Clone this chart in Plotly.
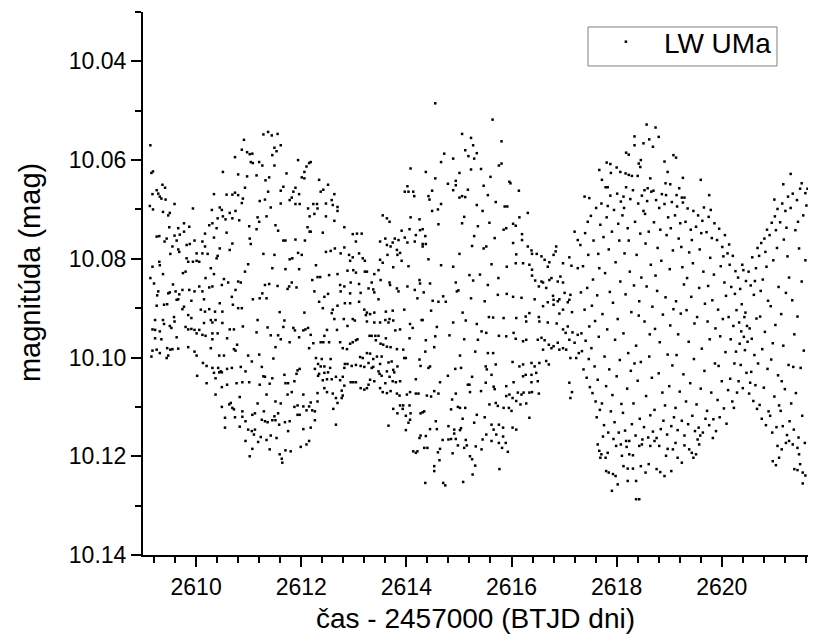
import plotly.graph_objects as go

# Light curve of LW UMa: time (BTJD) and magnitude, stored as list pairs per time segment
cas_1 = [
    2609.13, 2609.15, 2609.18, 2609.17, 2609.25, 2609.28, 2609.36, 2609.41, 2609.31, 2609.34,
    2609.42, 2609.12, 2609.18, 2609.37, 2609.47, 2609.50, 2609.59, 2609.94, 2609.49, 2609.66,
    2609.77, 2609.87, 2609.25, 2609.30, 2609.44, 2609.40, 2609.59, 2609.69, 2609.77, 2609.63,
    2609.55, 2609.66, 2609.68, 2609.82, 2609.88, 2609.97, 2610.01, 2609.51, 2609.17, 2609.30,
    2609.31, 2609.82, 2609.85, 2609.94, 2610.01, 2609.80, 2609.75, 2609.37, 2609.13, 2609.20,
    2609.56, 2609.28, 2609.26, 2609.47, 2609.50, 2609.61, 2609.68, 2609.74, 2609.87, 2609.97,
    2609.63, 2609.66, 2609.77, 2609.74, 2609.91, 2609.25, 2609.39, 2609.45, 2609.22, 2609.37,
    2609.39, 2609.58, 2609.59, 2609.50, 2609.53, 2609.85, 2609.91, 2609.17, 2609.22, 2609.31,
    2609.63, 2609.80, 2609.85, 2609.91, 2609.97, 2610.01, 2609.22, 2609.34, 2609.17, 2609.25,
    2609.31, 2609.45, 2609.51, 2609.55, 2609.66, 2609.47, 2609.44, 2609.15, 2609.85, 2609.97,
    2610.01, 2610.02,
]
mag_1 = [
    10.0570, 10.0626, 10.0623, 10.0669, 10.0661, 10.0668, 10.0650, 10.0656, 10.0674, 10.0678,
    10.0680, 10.0693, 10.0700, 10.0705, 10.0712, 10.0707, 10.0689, 10.0698, 10.0736, 10.0738,
    10.0728, 10.0735, 10.0755, 10.0754, 10.0759, 10.0765, 10.0753, 10.0751, 10.0745, 10.0763,
    10.0775, 10.0781, 10.0786, 10.0772, 10.0770, 10.0763, 10.0789, 10.0790, 10.0816, 10.0806,
    10.0813, 10.0799, 10.0806, 10.0806, 10.0804, 10.0826, 10.0829, 10.0831, 10.0839, 10.0850,
    10.0852, 10.0866, 10.0874, 10.0870, 10.0868, 10.0866, 10.0872, 10.0863, 10.0863, 10.0866,
    10.0883, 10.0882, 10.0897, 10.0902, 10.0885, 10.0895, 10.0893, 10.0892, 10.0924, 10.0924,
    10.0932, 10.0918, 10.0927, 10.0936, 10.0940, 10.0914, 10.0920, 10.0943, 10.0944, 10.0947,
    10.0959, 10.0938, 10.0943, 10.0942, 10.0944, 10.0951, 10.0961, 10.0963, 10.0986, 10.0984,
    10.0991, 10.0981, 10.0984, 10.0983, 10.0982, 10.0996, 10.1001, 10.0998, 10.0979, 10.0988,
    10.0996, 10.1037,
]

cas_2 = [
    2610.91, 2610.87, 2610.97, 2611.02, 2611.07, 2610.74, 2611.04, 2611.08, 2610.51, 2610.80,
    2610.97, 2610.93, 2610.34, 2610.58, 2610.69, 2610.74, 2610.80, 2610.89, 2610.87, 2610.45,
    2610.49, 2610.30, 2610.64, 2610.75, 2610.41, 2610.51, 2610.56, 2610.69, 2610.82, 2610.25,
    2610.31, 2610.39, 2610.34, 2610.58, 2610.17, 2611.01, 2611.02, 2610.12, 2610.69, 2611.04,
    2610.17, 2610.45, 2610.64, 2610.12, 2610.22, 2610.41, 2610.39, 2610.06, 2610.99, 2610.28,
    2610.93, 2610.34, 2610.18, 2610.53, 2610.61, 2610.80, 2610.85, 2610.06, 2610.25, 2610.31,
    2610.49, 2610.75, 2610.12, 2610.68, 2611.08, 2610.15, 2610.45, 2610.70, 2610.80, 2610.87,
    2610.09, 2610.17, 2610.25, 2610.36, 2610.50, 2610.28, 2610.37, 2610.15, 2610.31, 2610.50,
    2610.64, 2610.72, 2610.89, 2610.06, 2610.12, 2610.18, 2610.31, 2610.41, 2610.31, 2610.59,
    2610.78, 2610.28, 2610.72, 2610.75, 2610.44, 2610.53, 2610.99, 2611.06, 2610.13, 2610.20,
    2610.31, 2610.42, 2610.47, 2610.34, 2610.44, 2610.49, 2610.59, 2610.68, 2610.85, 2610.94,
    2610.37, 2610.20, 2610.49, 2610.59, 2610.77, 2610.88, 2611.01, 2610.37, 2610.83, 2610.63,
    2610.66, 2610.49, 2610.69, 2610.72, 2610.88, 2611.07, 2610.55, 2610.74, 2610.88, 2610.94,
    2610.55, 2610.83, 2610.99, 2611.06, 2611.10, 2610.94, 2611.07, 2611.02,
]
mag_2 = [
    10.0559, 10.0579, 10.0584, 10.0588, 10.0587, 10.0594, 10.0604, 10.0606, 10.0624, 10.0629,
    10.0633, 10.0656, 10.0669, 10.0670, 10.0670, 10.0666, 10.0671, 10.0678, 10.0687, 10.0696,
    10.0701, 10.0701, 10.0707, 10.0703, 10.0718, 10.0714, 10.0720, 10.0718, 10.0722, 10.0732,
    10.0728, 10.0738, 10.0757, 10.0747, 10.0749, 10.0734, 10.0759, 10.0765, 10.0769, 10.0770,
    10.0775, 10.0779, 10.0782, 10.0789, 10.0790, 10.0794, 10.0799, 10.0806, 10.0811, 10.0819,
    10.0826, 10.0831, 10.0839, 10.0841, 10.0848, 10.0846, 10.0848, 10.0856, 10.0858, 10.0856,
    10.0853, 10.0863, 10.0866, 10.0877, 10.0882, 10.0882, 10.0890, 10.0893, 10.0900, 10.0900,
    10.0903, 10.0907, 10.0902, 10.0907, 10.0907, 10.0924, 10.0924, 10.0930, 10.0929, 10.0930,
    10.0943, 10.0943, 10.0937, 10.0944, 10.0954, 10.0956, 10.0951, 10.0951, 10.0963, 10.0961,
    10.0974, 10.0981, 10.0983, 10.0986, 10.0996, 10.0996, 10.0996, 10.1008, 10.1011, 10.1017,
    10.1021, 10.1021, 10.1028, 10.1031, 10.1030, 10.1030, 10.1023, 10.1021, 10.1019, 10.1028,
    10.1042, 10.1052, 10.1060, 10.1055, 10.1052, 10.1050, 10.1050, 10.1075, 10.1080, 10.1095,
    10.1092, 10.1100, 10.1102, 10.1105, 10.1109, 10.1116, 10.1122, 10.1121, 10.1120, 10.1129,
    10.1142, 10.1140, 10.1146, 10.1149, 10.1156, 10.1169, 10.1185, 10.1200,
]

cas_3 = [
    2611.28, 2611.37, 2611.44, 2611.55, 2611.49, 2611.53, 2611.61, 2611.45, 2611.20, 2611.26,
    2611.49, 2611.94, 2612.10, 2612.15, 2612.06, 2612.01, 2612.06, 2611.15, 2611.32, 2611.39,
    2611.72, 2611.66, 2611.61, 2611.37, 2611.89, 2611.85, 2611.82, 2611.78, 2611.96, 2611.89,
    2611.97, 2611.61, 2611.21, 2611.31, 2612.13, 2611.42, 2611.34, 2611.17, 2611.20, 2611.15,
    2611.51, 2611.56, 2612.12, 2612.16, 2612.16, 2611.66, 2611.70, 2611.89, 2612.07, 2611.94,
    2612.01, 2611.28, 2611.49, 2611.78, 2611.83, 2611.45, 2611.70, 2611.96, 2611.31, 2611.39,
    2611.55, 2611.26, 2611.74, 2611.77, 2611.82, 2611.91, 2611.21, 2611.34, 2611.59, 2612.06,
    2611.17, 2611.68, 2611.36, 2611.66, 2611.85, 2611.88, 2612.04, 2612.08, 2612.13, 2611.15,
    2611.42, 2611.56, 2611.61, 2611.78, 2611.96, 2612.15, 2611.51, 2611.20, 2611.47, 2611.25,
    2611.93, 2611.97, 2611.91, 2611.28, 2611.31, 2611.45, 2611.68, 2611.21, 2611.40, 2611.70,
    2611.75, 2611.87, 2611.82, 2611.34, 2611.74, 2612.04, 2611.51, 2611.17, 2611.61, 2611.87,
    2611.93, 2612.04, 2612.10, 2612.15, 2611.29, 2611.12, 2611.56, 2611.49, 2611.93, 2611.97,
    2611.25, 2611.31, 2611.36, 2611.45, 2611.51, 2611.58, 2611.69, 2611.78, 2612.04, 2611.75,
    2611.12, 2611.23, 2611.18, 2611.34, 2611.42, 2611.53, 2612.15, 2612.10, 2611.40, 2611.70,
    2611.80, 2611.99, 2611.59, 2611.63, 2611.64,
]
mag_3 = [
    10.0548, 10.0543, 10.0550, 10.0547, 10.0575, 10.0582, 10.0570, 10.0590, 10.0604, 10.0611,
    10.0611, 10.0600, 10.0613, 10.0606, 10.0624, 10.0635, 10.0637, 10.0631, 10.0641, 10.0635,
    10.0627, 10.0654, 10.0662, 10.0664, 10.0656, 10.0664, 10.0676, 10.0681, 10.0669, 10.0689,
    10.0689, 10.0688, 10.0683, 10.0680, 10.0698, 10.0696, 10.0714, 10.0716, 10.0725, 10.0740,
    10.0732, 10.0743, 10.0736, 10.0745, 10.0714, 10.0763, 10.0763, 10.0761, 10.0763, 10.0788,
    10.0792, 10.0790, 10.0792, 10.0801, 10.0799, 10.0819, 10.0821, 10.0821, 10.0853, 10.0851,
    10.0855, 10.0870, 10.0861, 10.0856, 10.0848, 10.0858, 10.0880, 10.0880, 10.0908, 10.0909,
    10.0924, 10.0925, 10.0939, 10.0938, 10.0940, 10.0945, 10.0945, 10.0943, 10.0940, 10.0949,
    10.0955, 10.0955, 10.0963, 10.0969, 10.0959, 10.0981, 10.0979, 10.0994, 10.1002, 10.1019,
    10.1026, 10.1023, 10.1033, 10.1038, 10.1039, 10.1042, 10.1035, 10.1055, 10.1053, 10.1052,
    10.1052, 10.1048, 10.1070, 10.1075, 10.1075, 10.1075, 10.1089, 10.1093, 10.1093, 10.1100,
    10.1097, 10.1099, 10.1107, 10.1099, 10.1109, 10.1113, 10.1113, 10.1119, 10.1116, 10.1116,
    10.1126, 10.1129, 10.1131, 10.1127, 10.1127, 10.1136, 10.1131, 10.1129, 10.1145, 10.1149,
    10.1146, 10.1161, 10.1171, 10.1167, 10.1158, 10.1163, 10.1169, 10.1176, 10.1186, 10.1188,
    10.1190, 10.1181, 10.1196, 10.1205, 10.1213,
]

cas_4 = [
    2612.18, 2612.34, 2612.42, 2612.37, 2612.51, 2612.47, 2612.23, 2612.30, 2612.31, 2612.25,
    2612.58, 2612.60, 2612.63, 2612.69, 2612.69, 2612.47, 2612.63, 2612.18, 2612.41, 2612.82,
    2612.98, 2613.06, 2613.15, 2613.04, 2612.82, 2612.64, 2612.56, 2612.47, 2612.75, 2612.91,
    2612.98, 2613.10, 2613.17, 2613.21, 2612.93, 2612.28, 2612.88, 2612.99, 2613.04, 2613.21,
    2612.21, 2612.31, 2612.36, 2612.53, 2612.69, 2612.74, 2612.82, 2612.94, 2613.10, 2612.25,
    2612.51, 2612.44, 2612.34, 2612.75, 2612.93, 2612.83, 2612.93, 2613.10, 2613.13, 2612.41,
    2612.60, 2612.69, 2612.63, 2612.58, 2612.81, 2612.98, 2613.02, 2613.20, 2613.23, 2612.88,
    2612.49, 2612.68, 2612.18, 2612.44, 2612.37, 2612.42, 2612.53, 2612.23, 2612.74, 2612.79,
    2612.87, 2612.93, 2612.98, 2613.04, 2613.07, 2613.12, 2613.17, 2612.28, 2612.39, 2612.56,
    2612.32, 2612.83, 2612.88, 2612.96, 2613.04, 2613.13, 2613.20, 2612.37, 2612.44, 2612.26,
    2612.34, 2612.44, 2612.51, 2612.55, 2612.82, 2612.32, 2612.41, 2612.49, 2612.58, 2612.66,
    2612.79, 2612.74, 2612.94, 2612.99, 2613.04, 2613.13, 2613.20, 2612.82, 2612.44, 2612.31,
    2612.49, 2612.60, 2612.77, 2612.66, 2612.79, 2612.69, 2612.77, 2612.18, 2612.31, 2612.61,
    2612.21, 2612.26, 2612.26, 2612.18, 2612.66,
]
mag_4 = [
    10.0604, 10.0640, 10.0660, 10.0664, 10.0650, 10.0688, 10.0689, 10.0689, 10.0698, 10.0709,
    10.0681, 10.0691, 10.0669, 10.0695, 10.0703, 10.0714, 10.0723, 10.0745, 10.0747, 10.0736,
    10.0750, 10.0749, 10.0749, 10.0765, 10.0777, 10.0779, 10.0784, 10.0786, 10.0789, 10.0792,
    10.0797, 10.0789, 10.0799, 10.0804, 10.0804, 10.0813, 10.0824, 10.0823, 10.0828, 10.0826,
    10.0843, 10.0837, 10.0837, 10.0833, 10.0831, 10.0853, 10.0856, 10.0848, 10.0851, 10.0866,
    10.0871, 10.0877, 10.0887, 10.0866, 10.0870, 10.0890, 10.0890, 10.0887, 10.0869, 10.0900,
    10.0903, 10.0895, 10.0922, 10.0910, 10.0922, 10.0922, 10.0925, 10.0903, 10.0914, 10.0936,
    10.0944, 10.0944, 10.0954, 10.0956, 10.0969, 10.0969, 10.0969, 10.0971, 10.0969, 10.0981,
    10.0983, 10.0972, 10.0969, 10.0965, 10.0963, 10.0999, 10.1001, 10.1001, 10.1003, 10.1003,
    10.1013, 10.1013, 10.1013, 10.1017, 10.1015, 10.1017, 10.1019, 10.1018, 10.1018, 10.1023,
    10.1033, 10.1031, 10.1030, 10.1021, 10.1021, 10.1037, 10.1046, 10.1044, 10.1044, 10.1039,
    10.1039, 10.1046, 10.1050, 10.1050, 10.1050, 10.1062, 10.1065, 10.1057, 10.1062, 10.1072,
    10.1070, 10.1073, 10.1067, 10.1082, 10.1077, 10.1092, 10.1082, 10.1091, 10.1089, 10.1104,
    10.1107, 10.1109, 10.1127, 10.1142, 10.1136,
]

cas_5 = [
    2614.08, 2614.02, 2613.97, 2614.04, 2614.13, 2614.15, 2613.55, 2613.63, 2613.68, 2614.08,
    2614.25, 2613.91, 2614.06, 2614.18, 2614.26, 2613.50, 2613.60, 2613.78, 2613.85, 2613.97,
    2614.02, 2614.16, 2613.63, 2613.74, 2613.70, 2613.82, 2613.88, 2613.83, 2613.50, 2613.64,
    2613.91, 2614.04, 2613.55, 2613.47, 2613.75, 2613.39, 2613.25, 2613.34, 2613.51, 2613.68,
    2613.69, 2613.28, 2613.37, 2613.39, 2613.82, 2613.85, 2614.02, 2614.16, 2614.25, 2614.26,
    2613.47, 2614.21, 2613.96, 2613.25, 2613.31, 2613.39, 2613.61, 2613.74, 2614.29, 2613.25,
    2613.39, 2613.50, 2613.60, 2613.68, 2613.66, 2613.75, 2613.79, 2613.88, 2614.07, 2614.12,
    2613.30, 2613.34, 2613.41, 2613.47, 2613.61, 2613.42, 2613.51, 2613.56, 2614.06, 2613.63,
    2613.70, 2613.82, 2613.94, 2613.25, 2613.31, 2613.44, 2613.53, 2613.96, 2613.99, 2613.37,
    2614.25, 2613.28, 2613.50, 2613.66, 2613.72, 2614.27, 2613.34, 2613.37, 2613.47, 2613.63,
    2613.75, 2613.83, 2613.49, 2613.53, 2613.68, 2613.77, 2614.18, 2613.31, 2613.39, 2613.60,
    2613.74, 2613.80, 2613.88, 2613.25, 2613.28, 2613.50, 2613.55, 2613.63, 2613.70, 2613.82,
    2613.87, 2614.01, 2614.07, 2614.18, 2614.23, 2613.75, 2613.88, 2613.94, 2613.93, 2614.06,
    2613.83, 2613.99, 2614.08, 2614.27, 2614.07, 2613.66, 2613.99, 2614.04, 2614.25, 2614.27,
    2614.13, 2614.18, 2614.21,
]
mag_5 = [
    10.0617, 10.0653, 10.0664, 10.0664, 10.0664, 10.0673, 10.0712, 10.0718, 10.0725, 10.0716,
    10.0720, 10.0743, 10.0740, 10.0752, 10.0742, 10.0765, 10.0759, 10.0759, 10.0762, 10.0757,
    10.0767, 10.0765, 10.0772, 10.0767, 10.0775, 10.0782, 10.0788, 10.0792, 10.0802, 10.0792,
    10.0804, 10.0815, 10.0808, 10.0823, 10.0817, 10.0831, 10.0826, 10.0848, 10.0843, 10.0848,
    10.0853, 10.0860, 10.0862, 10.0868, 10.0860, 10.0866, 10.0856, 10.0863, 10.0843, 10.0850,
    10.0882, 10.0880, 10.0903, 10.0909, 10.0912, 10.0909, 10.0907, 10.0905, 10.0924, 10.0927,
    10.0929, 10.0929, 10.0924, 10.0922, 10.0929, 10.0925, 10.0945, 10.0943, 10.0932, 10.0940,
    10.0956, 10.0956, 10.0956, 10.0956, 10.0961, 10.0965, 10.0972, 10.0974, 10.0961, 10.0978,
    10.0979, 10.0983, 10.0984, 10.0991, 10.0992, 10.0998, 10.0998, 10.1001, 10.1001, 10.1003,
    10.1004, 10.1011, 10.1013, 10.1010, 10.1008, 10.1017, 10.1021, 10.1019, 10.1028, 10.1028,
    10.1025, 10.1018, 10.1033, 10.1037, 10.1039, 10.1030, 10.1044, 10.1045, 10.1048, 10.1052,
    10.1048, 10.1050, 10.1048, 10.1062, 10.1055, 10.1062, 10.1070, 10.1072, 10.1068, 10.1073,
    10.1077, 10.1075, 10.1070, 10.1073, 10.1073, 10.1104, 10.1097, 10.1097, 10.1104, 10.1097,
    10.1113, 10.1118, 10.1113, 10.1113, 10.1126, 10.1138, 10.1147, 10.1132, 10.1163, 10.1158,
    10.1190, 10.1193, 10.1190,
]

cas_6 = [
    2614.55, 2615.06, 2615.23, 2615.27, 2615.12, 2615.34, 2614.72, 2614.66, 2614.89, 2615.18,
    2615.29, 2615.23, 2614.37, 2615.01, 2614.55, 2614.79, 2614.94, 2614.94, 2614.89, 2614.49,
    2615.17, 2614.42, 2614.44, 2615.01, 2615.06, 2615.12, 2614.66, 2614.49, 2614.60, 2615.34,
    2615.10, 2615.06, 2614.61, 2615.36, 2614.31, 2614.36, 2615.29, 2614.31, 2614.37, 2615.25,
    2614.31, 2615.01, 2614.42, 2614.66, 2614.89, 2615.20, 2615.27, 2614.45, 2614.94, 2614.96,
    2614.99, 2614.33, 2614.70, 2614.50, 2614.61, 2614.75, 2615.23, 2614.47, 2615.07, 2615.13,
    2614.89, 2615.34, 2614.31, 2614.58, 2614.55, 2614.82, 2615.10, 2614.37, 2614.53, 2615.36,
    2614.36, 2615.31, 2615.02, 2614.42, 2614.45, 2614.93, 2615.04, 2615.25, 2614.79, 2615.17,
    2615.20, 2614.64, 2614.39, 2614.47, 2614.53, 2614.61, 2614.94, 2615.21, 2614.87, 2614.31,
    2614.34, 2614.85, 2614.98, 2615.02, 2615.12, 2615.34, 2614.56, 2615.07, 2615.29, 2614.45,
    2614.58, 2614.80, 2614.91, 2615.04, 2615.02, 2614.37, 2614.69, 2614.80, 2614.85, 2614.94,
    2615.13, 2614.91, 2614.34, 2614.40, 2614.60, 2614.64, 2614.88, 2614.98, 2615.10, 2615.15,
    2615.32, 2615.21, 2615.25, 2615.31, 2614.63, 2614.53, 2614.53, 2615.26, 2614.36, 2614.70,
    2614.74, 2615.08,
]
mag_6 = [
    10.0485, 10.0547, 10.0555, 10.0570, 10.0580, 10.0586, 10.0587, 10.0604, 10.0597, 10.0592,
    10.0597, 10.0619, 10.0624, 10.0626, 10.0637, 10.0648, 10.0642, 10.0651, 10.0661, 10.0662,
    10.0660, 10.0673, 10.0680, 10.0676, 10.0673, 10.0675, 10.0689, 10.0703, 10.0700, 10.0691,
    10.0715, 10.0728, 10.0730, 10.0734, 10.0740, 10.0754, 10.0754, 10.0770, 10.0770, 10.0774,
    10.0775, 10.0790, 10.0801, 10.0813, 10.0816, 10.0833, 10.0844, 10.0850, 10.0848, 10.0866,
    10.0864, 10.0868, 10.0876, 10.0885, 10.0887, 10.0887, 10.0880, 10.0905, 10.0909, 10.0925,
    10.0929, 10.0932, 10.0924, 10.0938, 10.0957, 10.0955, 10.0963, 10.0965, 10.0979, 10.0964,
    10.0988, 10.0988, 10.0996, 10.1021, 10.1018, 10.1023, 10.1021, 10.1039, 10.1037, 10.1055,
    10.1055, 10.1050, 10.1077, 10.1079, 10.1068, 10.1073, 10.1073, 10.1070, 10.1085, 10.1111,
    10.1109, 10.1105, 10.1100, 10.1102, 10.1102, 10.1116, 10.1129, 10.1124, 10.1132, 10.1145,
    10.1145, 10.1139, 10.1146, 10.1143, 10.1147, 10.1159, 10.1167, 10.1166, 10.1165, 10.1165,
    10.1167, 10.1154, 10.1183, 10.1183, 10.1192, 10.1185, 10.1194, 10.1178, 10.1183, 10.1178,
    10.1180, 10.1200, 10.1206, 10.1219, 10.1208, 10.1220, 10.1230, 10.1237, 10.1254, 10.1254,
    10.1259, 10.1252,
]

cas_7 = [
    2615.64, 2615.81, 2615.76, 2615.81, 2615.98, 2615.96, 2616.14, 2615.87, 2615.92, 2616.31,
    2616.15, 2616.03, 2616.08, 2615.90, 2615.85, 2616.20, 2616.20, 2615.68, 2615.52, 2616.03,
    2616.31, 2616.38, 2616.39, 2616.48, 2616.57, 2616.09, 2616.08, 2616.22, 2616.34, 2615.91,
    2616.63, 2616.72, 2616.69, 2616.80, 2616.85, 2616.84, 2616.98, 2617.10, 2617.14, 2617.26,
    2617.20, 2617.26, 2616.39, 2616.39, 2616.45, 2616.57, 2616.52, 2616.60, 2616.66, 2616.72,
    2616.76, 2616.88, 2616.93, 2616.98, 2617.12, 2617.01, 2616.79, 2616.69, 2616.80, 2616.88,
    2616.91, 2616.98, 2617.07, 2617.10, 2617.15, 2616.91, 2616.80, 2616.60, 2616.44, 2616.19,
    2616.03, 2615.91, 2615.74, 2615.49, 2615.85, 2615.57, 2615.65, 2616.09, 2616.27, 2616.34,
    2616.28, 2616.52, 2616.53, 2616.69, 2616.86, 2616.98, 2617.07, 2617.03, 2617.16, 2617.26,
    2615.43, 2615.52, 2616.04, 2616.08, 2615.90, 2615.76, 2616.22, 2616.28, 2616.50, 2616.57,
    2616.63, 2616.71, 2616.76, 2616.80, 2616.88, 2616.91, 2616.98, 2617.04, 2617.10, 2617.20,
    2617.12, 2617.23, 2617.28, 2616.60, 2616.66, 2616.71, 2616.53, 2616.44, 2616.38, 2616.22,
    2616.15, 2616.02, 2615.51, 2615.70, 2615.65, 2615.55, 2615.62, 2615.53, 2616.22, 2616.27,
    2616.38, 2616.47, 2616.50, 2616.38, 2616.04, 2615.90, 2615.66, 2615.51, 2617.10, 2617.15,
    2617.12, 2616.12, 2616.19, 2616.23, 2616.34, 2616.39, 2616.52, 2615.96, 2615.90, 2616.02,
    2616.09, 2616.17, 2616.28, 2615.70, 2615.74, 2615.85, 2615.95, 2616.00, 2616.34, 2615.62,
    2615.76, 2615.66, 2615.84, 2616.02, 2616.09, 2615.52, 2615.71, 2615.84, 2615.62, 2615.76,
    2615.89, 2615.93, 2615.82, 2615.45, 2615.43, 2615.77,
    2615.42, 2615.47, 2615.55, 2615.60, 2615.45, 2615.58, 2615.70, 2615.40, 2615.62, 2615.75,
    2615.47, 2615.55, 2615.42, 2615.58, 2615.49, 2615.68,
]
mag_7 = [
    10.0518, 10.0562, 10.0611, 10.0607, 10.0647, 10.0644, 10.0662, 10.0694, 10.0694, 10.0707,
    10.0716, 10.0729, 10.0733, 10.0738, 10.0741, 10.0750, 10.0762, 10.0758, 10.0775, 10.0768,
    10.0775, 10.0783, 10.0790, 10.0790, 10.0795, 10.0791, 10.0809, 10.0809, 10.0812, 10.0816,
    10.0802, 10.0807, 10.0816, 10.0792, 10.0775, 10.0785, 10.0809, 10.0797, 10.0814, 10.0819,
    10.0745, 10.0762, 10.0822, 10.0834, 10.0844, 10.0846, 10.0856, 10.0848, 10.0859, 10.0843,
    10.0839, 10.0846, 10.0836, 10.0848, 10.0873, 10.0869, 10.0875, 10.0888, 10.0883, 10.0886,
    10.0882, 10.0903, 10.0888, 10.0883, 10.0908, 10.0911, 10.0893, 10.0896, 10.0882, 10.0879,
    10.0877, 10.0871, 10.0873, 10.0886, 10.0920, 10.0918, 10.0919, 10.0920, 10.0917, 10.0910,
    10.0927, 10.0918, 10.0927, 10.0929, 10.0931, 10.0943, 10.0937, 10.0950, 10.0949, 10.0954,
    10.0947, 10.0950, 10.0950, 10.0962, 10.0957, 10.0956, 10.0967, 10.0964, 10.0964, 10.0960,
    10.0965, 10.0974, 10.0981, 10.0977, 10.0970, 10.0984, 10.0981, 10.0984, 10.0964, 10.0970,
    10.1001, 10.1001, 10.0991, 10.0984, 10.1007, 10.1014, 10.1011, 10.1018, 10.1011, 10.1014,
    10.1018, 10.1009, 10.1018, 10.1014, 10.0991, 10.0991, 10.1035, 10.1024, 10.1038, 10.1035,
    10.1035, 10.1031, 10.1048, 10.1050, 10.1050, 10.1058, 10.1059, 10.1051, 10.1051, 10.1070,
    10.1082, 10.1071, 10.1075, 10.1071, 10.1071, 10.1070, 10.1073, 10.1075, 10.1078, 10.1082,
    10.1088, 10.1095, 10.1093, 10.1092, 10.1098, 10.1102, 10.1102, 10.1108, 10.1122, 10.1136,
    10.1136, 10.1146, 10.1142, 10.1142, 10.1146, 10.1156, 10.1156, 10.1160, 10.1169, 10.1173,
    10.1173, 10.1191, 10.1183, 10.1166, 10.1186, 10.1226,
    10.0618, 10.0652, 10.0671, 10.0634, 10.0703, 10.0727, 10.0685, 10.0832, 10.0811, 10.0839,
    10.0779, 10.0853, 10.1068, 10.1095, 10.1121, 10.1064,
]

# brightest points of the second half
cas_8 = [
    2617.39, 2617.48, 2617.67, 2617.72, 2617.79, 2617.83, 2617.81, 2617.88, 2617.89, 2618.00,
    2618.07, 2618.13, 2618.17, 2618.23, 2618.29, 2618.40, 2618.18, 2618.23, 2618.34, 2618.34,
    2618.42, 2618.45, 2618.46, 2618.51, 2618.57, 2618.62, 2618.69, 2618.74, 2618.80, 2618.64,
    2618.53, 2618.59, 2618.70, 2618.91, 2618.97, 2618.93, 2619.02, 2619.08, 2619.13, 2619.26,
    2619.19, 2619.14, 2619.24, 2619.29, 2619.60, 2619.76, 2621.31, 2621.17, 2621.52, 2621.59,
    2621.63, 2621.00,
]
mag_8 = [
    10.0674, 10.0677, 10.0620, 10.0640, 10.0655, 10.0655, 10.0605, 10.0608, 10.0626, 10.0615,
    10.0624, 10.0674, 10.0627, 10.0630, 10.0632, 10.0632, 10.0585, 10.0589, 10.0570, 10.0552,
    10.0607, 10.0614, 10.0600, 10.0566, 10.0528, 10.0558, 10.0573, 10.0534, 10.0553, 10.0637,
    10.0661, 10.0657, 10.0662, 10.0603, 10.0624, 10.0647, 10.0649, 10.0590, 10.0595, 10.0636,
    10.0657, 10.0671, 10.0676, 10.0676, 10.0640, 10.0671, 10.0628, 10.0649, 10.0647, 10.0667,
    10.0658, 10.0680,
]

# faintest points of the second half
cas_9 = [
    2617.64, 2617.67, 2617.71, 2617.69, 2617.79, 2617.83, 2617.80, 2617.85, 2617.93, 2617.98,
    2618.02, 2617.91, 2617.99, 2618.08, 2618.18, 2618.10, 2618.24, 2618.19, 2618.31, 2618.13,
    2618.21, 2618.31, 2618.21, 2618.37, 2618.37, 2618.43, 2618.43, 2618.48, 2618.46, 2618.55,
    2618.61, 2618.64, 2618.72, 2618.76, 2618.81, 2618.83, 2618.91, 2618.94, 2618.97, 2619.04,
    2619.07, 2619.12, 2619.16, 2619.24, 2619.29, 2619.38, 2619.43, 2619.51, 2619.57, 2619.46,
    2620.97, 2621.03, 2621.09, 2621.06, 2621.14, 2621.22, 2621.28, 2621.35, 2621.44, 2621.47,
    2621.49, 2621.38, 2621.44, 2621.54, 2621.59, 2621.54,
]
mag_9 = [
    10.1176, 10.1189, 10.1196, 10.1203, 10.1203, 10.1193, 10.1230, 10.1233, 10.1236, 10.1240,
    10.1257, 10.1270, 10.1179, 10.1176, 10.1169, 10.1199, 10.1196, 10.1181, 10.1198, 10.1220,
    10.1225, 10.1225, 10.1250, 10.1250, 10.1287, 10.1287, 10.1179, 10.1176, 10.1220, 10.1233,
    10.1216, 10.1179, 10.1169, 10.1226, 10.1179, 10.1232, 10.1240, 10.1199, 10.1185, 10.1230,
    10.1186, 10.1173, 10.1203, 10.1213, 10.1178, 10.1186, 10.1193, 10.1196, 10.1176, 10.1203,
    10.1210, 10.1218, 10.1203, 10.1179, 10.1186, 10.1173, 10.1169, 10.1176, 10.1183, 10.1196,
    10.1216, 10.1226, 10.1228, 10.1233, 10.1239, 10.1255,
]

# in-between points, 2617.3 - 2619.5
cas_10 = [
    2617.31, 2617.33, 2617.34, 2617.36, 2617.37, 2617.39, 2617.40, 2617.41, 2617.43, 2617.44, 2617.46, 2617.47, 2617.48, 2617.49, 2617.32, 2617.45,
    2617.51, 2617.52, 2617.54, 2617.55, 2617.56, 2617.58, 2617.59, 2617.60, 2617.61, 2617.63, 2617.64, 2617.65, 2617.66, 2617.68, 2617.69, 2617.53, 2617.62, 2617.67,
    2617.71, 2617.72, 2617.73, 2617.75, 2617.76, 2617.77, 2617.78, 2617.80, 2617.81, 2617.82, 2617.84, 2617.85, 2617.86, 2617.87, 2617.88, 2617.89, 2617.74, 2617.83,
    2617.91, 2617.92, 2617.93, 2617.95, 2617.96, 2617.97, 2617.98, 2618.00, 2618.01, 2618.02, 2618.04, 2618.05, 2618.06, 2618.07, 2618.08, 2618.09, 2617.94, 2618.03,
    2618.11, 2618.12, 2618.13, 2618.15, 2618.16, 2618.17, 2618.18, 2618.20, 2618.21, 2618.22, 2618.24, 2618.25, 2618.26, 2618.27, 2618.28, 2618.29, 2618.14, 2618.23,
    2618.31, 2618.32, 2618.33, 2618.35, 2618.36, 2618.37, 2618.38, 2618.40, 2618.41, 2618.42, 2618.44, 2618.45, 2618.46, 2618.47, 2618.48, 2618.49, 2618.34, 2618.43,
    2618.51, 2618.52, 2618.53, 2618.55, 2618.56, 2618.57, 2618.58, 2618.60, 2618.61, 2618.62, 2618.64, 2618.65, 2618.66, 2618.67, 2618.68, 2618.69, 2618.54, 2618.63,
    2618.71, 2618.72, 2618.73, 2618.75, 2618.76, 2618.77, 2618.78, 2618.80, 2618.81, 2618.82, 2618.84, 2618.85, 2618.86, 2618.87, 2618.88, 2618.89, 2618.74, 2618.83,
    2618.91, 2618.92, 2618.93, 2618.95, 2618.96, 2618.97, 2618.98, 2619.00, 2619.01, 2619.02, 2619.04, 2619.05, 2619.06, 2619.07, 2619.08, 2619.09, 2618.94, 2619.03,
    2619.11, 2619.12, 2619.13, 2619.15, 2619.16, 2619.17, 2619.18, 2619.20, 2619.21, 2619.22, 2619.24, 2619.25, 2619.26, 2619.27, 2619.28, 2619.29, 2619.14, 2619.23,
    2619.31, 2619.32, 2619.33, 2619.35, 2619.36, 2619.37, 2619.38, 2619.40, 2619.41, 2619.42, 2619.44, 2619.45, 2619.46, 2619.47, 2619.48, 2619.49, 2619.34, 2619.43,
]
mag_10 = [
    10.0772, 10.0951, 10.0987, 10.0815, 10.1024, 10.0903, 10.0748, 10.0966, 10.1041, 10.0859, 10.0792, 10.1003, 10.0937, 10.1060, 10.0868, 10.0725,
    10.0713, 10.0981, 10.1072, 10.0842, 10.0763, 10.1018, 10.0926, 10.1089, 10.0697, 10.0874, 10.1045, 10.0790, 10.0958, 10.1106, 10.0731, 10.0895, 10.1121, 10.0819,
    10.0688, 10.1093, 10.0912, 10.0756, 10.1137, 10.0998, 10.0829, 10.1058, 10.0716, 10.0943, 10.1152, 10.0781, 10.1024, 10.0867, 10.0672, 10.1109, 10.1160, 10.0693,
    10.0745, 10.1076, 10.0889, 10.0701, 10.1131, 10.0964, 10.0807, 10.1038, 10.0668, 10.0922, 10.1152, 10.0763, 10.1005, 10.0846, 10.0684, 10.1094, 10.1165, 10.0729,
    10.0712, 10.1112, 10.0951, 10.0789, 10.1148, 10.0872, 10.0655, 10.1063, 10.0738, 10.0991, 10.1169, 10.0826, 10.0679, 10.1027, 10.0908, 10.1135, 10.0697, 10.0763,
    10.0661, 10.1093, 10.0854, 10.0725, 10.1158, 10.0976, 10.0792, 10.1047, 10.0688, 10.0915, 10.1124, 10.0749, 10.1009, 10.0838, 10.0672, 10.1166, 10.1012, 10.0886,
    10.0703, 10.1141, 10.0927, 10.0769, 10.1078, 10.0856, 10.0683, 10.1162, 10.0745, 10.0998, 10.1117, 10.0812, 10.0664, 10.1041, 10.0897, 10.1150, 10.0709, 10.0953,
    10.0726, 10.1106, 10.0942, 10.0681, 10.1163, 10.0865, 10.0778, 10.1032, 10.0697, 10.0969, 10.1145, 10.0804, 10.0669, 10.1071, 10.0913, 10.1128, 10.0834, 10.0741,
    10.0689, 10.1097, 10.0878, 10.0752, 10.1156, 10.0994, 10.0716, 10.1058, 10.0821, 10.0935, 10.1139, 10.0685, 10.1016, 10.0783, 10.0902, 10.1121, 10.0671, 10.0738,
    10.0712, 10.1102, 10.0886, 10.0694, 10.1147, 10.0953, 10.0759, 10.1069, 10.0728, 10.0911, 10.1128, 10.0817, 10.0686, 10.1034, 10.0852, 10.1158, 10.0995, 10.0776,
    10.0725, 10.1089, 10.0904, 10.0698, 10.1135, 10.0968, 10.0787, 10.1052, 10.0741, 10.0877, 10.1118, 10.0809, 10.0703, 10.1003, 10.0931, 10.1149, 10.0839, 10.0762,
]

# in-between points, 2619.5 - 2621.6
cas_11 = [
    2619.51, 2619.52, 2619.53, 2619.55, 2619.56, 2619.57, 2619.58, 2619.60, 2619.61, 2619.62, 2619.64, 2619.65, 2619.66, 2619.67, 2619.68, 2619.69, 2619.54, 2619.63, 2619.59,
    2619.71, 2619.72, 2619.73, 2619.75, 2619.76, 2619.77, 2619.78, 2619.80, 2619.81, 2619.82, 2619.84, 2619.85, 2619.86, 2619.87, 2619.88, 2619.89, 2619.74, 2619.83, 2619.79,
    2619.91, 2619.92, 2619.93, 2619.95, 2619.96, 2619.97, 2619.98, 2620.00, 2620.01, 2620.02, 2620.04, 2620.05, 2620.06, 2620.07, 2620.08, 2620.09, 2619.94, 2620.03,
    2620.11, 2620.12, 2620.13, 2620.15, 2620.16, 2620.17, 2620.18, 2620.20, 2620.21, 2620.22, 2620.24, 2620.25, 2620.26, 2620.27, 2620.28, 2620.29, 2620.14, 2620.23,
    2620.31, 2620.32, 2620.33, 2620.35, 2620.36, 2620.37, 2620.38, 2620.40, 2620.41, 2620.42, 2620.44, 2620.45, 2620.46, 2620.47, 2620.48, 2620.49, 2620.34, 2620.43, 2620.39,
    2620.51, 2620.52, 2620.53, 2620.55, 2620.56, 2620.57, 2620.58, 2620.60, 2620.61, 2620.62, 2620.64, 2620.65, 2620.66, 2620.67, 2620.68, 2620.69, 2620.54, 2620.63,
    2620.71, 2620.72, 2620.73, 2620.75, 2620.76, 2620.77, 2620.78, 2620.80, 2620.81, 2620.82, 2620.84, 2620.85, 2620.86, 2620.87, 2620.88, 2620.89, 2620.74, 2620.83,
    2620.91, 2620.92, 2620.93, 2620.95, 2620.96, 2620.97, 2620.98, 2621.00, 2621.01, 2621.02, 2621.04, 2621.05, 2621.06, 2621.07, 2621.08, 2621.09, 2620.94, 2621.03,
    2621.11, 2621.12, 2621.13, 2621.15, 2621.16, 2621.17, 2621.18, 2621.20, 2621.21, 2621.22, 2621.24, 2621.25, 2621.26, 2621.27, 2621.28, 2621.29, 2621.14, 2621.23,
    2621.31, 2621.32, 2621.34, 2621.35, 2621.37, 2621.38, 2621.40, 2621.41, 2621.43, 2621.44, 2621.46, 2621.47, 2621.49, 2621.50, 2621.52, 2621.53, 2621.55, 2621.56, 2621.58, 2621.59, 2621.61, 2621.36, 2621.45,
]
mag_11 = [
    10.0735, 10.1095, 10.0918, 10.0712, 10.1142, 10.0859, 10.0781, 10.1063, 10.0748, 10.0982, 10.1152, 10.0826, 10.0696, 10.1027, 10.0891, 10.1124, 10.1166, 10.0723, 10.1158,
    10.0746, 10.1108, 10.0927, 10.0715, 10.1137, 10.0963, 10.0798, 10.1071, 10.0758, 10.0884, 10.1125, 10.0832, 10.0728, 10.1012, 10.0941, 10.1149, 10.0855, 10.1163, 10.0701,
    10.0762, 10.1086, 10.0903, 10.0739, 10.1121, 10.0957, 10.0815, 10.1048, 10.0776, 10.0922, 10.1103, 10.0848, 10.0752, 10.0989, 10.0875, 10.1134, 10.1017, 10.0795,
    10.0789, 10.1066, 10.0918, 10.0812, 10.1043, 10.0963, 10.0857, 10.1089, 10.0794, 10.0936, 10.1012, 10.0871, 10.0825, 10.0988, 10.0904, 10.1071, 10.0771, 10.1102,
    10.0838, 10.1048, 10.0929, 10.0861, 10.1015, 10.0947, 10.0892, 10.1062, 10.0823, 10.0958, 10.0985, 10.0909, 10.0845, 10.1031, 10.0936, 10.0968, 10.0972, 10.0918, 10.0812,
    10.0826, 10.1073, 10.0941, 10.0854, 10.1029, 10.0962, 10.0797, 10.1088, 10.0873, 10.0995, 10.1056, 10.0819, 10.0921, 10.1104, 10.0778, 10.1012, 10.1051, 10.0845,
    10.0794, 10.1096, 10.0917, 10.0768, 10.1124, 10.0983, 10.0842, 10.1061, 10.0759, 10.0948, 10.1137, 10.0816, 10.0741, 10.1023, 10.0885, 10.1109, 10.0865, 10.0786,
    10.0752, 10.1118, 10.0896, 10.0727, 10.1152, 10.0971, 10.0803, 10.1079, 10.0714, 10.0934, 10.1141, 10.0778, 10.0699, 10.1036, 10.0857, 10.1097, 10.1004, 10.0742,
    10.0726, 10.1108, 10.0912, 10.0688, 10.1139, 10.0976, 10.0761, 10.1064, 10.0703, 10.0869, 10.1157, 10.0795, 10.0674, 10.1015, 10.0838, 10.1129, 10.1048, 10.0737,
    10.0697, 10.1093, 10.0884, 10.0668, 10.1146, 10.0953, 10.0742, 10.1072, 10.0681, 10.0917, 10.1162, 10.0779, 10.0658, 10.1021, 10.0846, 10.1118, 10.0712, 10.0986, 10.1173, 10.0803, 10.0692, 10.1019, 10.0725,
]

segments = [
    (cas_1, mag_1), (cas_2, mag_2), (cas_3, mag_3), (cas_4, mag_4),
    (cas_5, mag_5), (cas_6, mag_6), (cas_7, mag_7), (cas_8, mag_8),
    (cas_9, mag_9), (cas_10, mag_10), (cas_11, mag_11),
]
for i, (c, m) in enumerate(segments, 1):
    assert len(c) == len(m), f"segment {i}: {len(c)} vs {len(m)}"

cas = [t for c, _ in segments for t in c]
mag = [v for _, m in segments for v in m]

FONT = "Liberation Sans, Arial, sans-serif"

fig = go.Figure(
    go.Scatter(
        x=cas, y=mag, mode="markers", name="LW UMa",
        marker=dict(color="black", size=2.5, symbol="square", line=dict(width=0)),
    )
)

axis_common = dict(
    showgrid=False, zeroline=False,
    showline=True, linecolor="black", linewidth=2,
    ticks="outside", ticklen=10, tickwidth=2, tickcolor="black",
    tickfont=dict(family=FONT, size=23, color="black"),
    mirror=False,
)

fig.update_xaxes(
    range=[2608.99, 2621.64], tick0=2610, dtick=2,
    minor=dict(ticks="outside", ticklen=6, tickwidth=2, tickcolor="black", dtick=0.4, tick0=2610),
    title=dict(text="čas - 2457000 (BTJD dni)", font=dict(family=FONT, size=28, color="black"), standoff=10),
    **axis_common,
)
fig.update_yaxes(
    range=[10.14, 10.03], tick0=10.04, dtick=0.02, tickformat=".2f",
    minor=dict(ticks="outside", ticklen=6, tickwidth=2, tickcolor="black", dtick=0.01, tick0=10.04),
    **axis_common,
)

# y-axis title placed as a rotated annotation beside the tick labels
fig.add_annotation(
    text="magnitúda (mag)", textangle=-90, showarrow=False,
    xref="paper", yref="paper", x=-0.17, y=0.521, xanchor="center", yanchor="middle",
    font=dict(family=FONT, size=29, color="black"),
)

# legend frame drawn as a shape so its height stays tight around the entry
fig.add_shape(
    type="rect", xref="paper", yref="paper",
    x0=0.6692, x1=0.9534, y0=0.9006, y1=0.9724,
    line=dict(color="#7f7f7f", width=1), fillcolor="white", layer="below",
)

fig.update_layout(
    width=813, height=644,
    margin=dict(l=143, r=5, t=12, b=89),
    paper_bgcolor="white", plot_bgcolor="white",
    showlegend=True,
    legend=dict(
        x=0.669, y=0.9908, xanchor="left", yanchor="top",
        borderwidth=0, bgcolor="rgba(0,0,0,0)",
        font=dict(family=FONT, size=28, color="black"),
        itemwidth=66,
    ),
)

fig.write_html("out.html")
